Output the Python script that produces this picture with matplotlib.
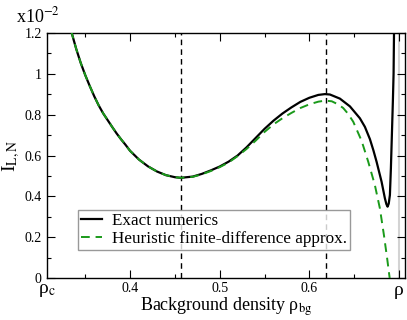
import matplotlib
matplotlib.use("Agg")
import matplotlib.pyplot as plt
from matplotlib.ticker import MultipleLocator, FixedLocator

plt.rcParams['font.family'] = ['Liberation Serif', 'DejaVu Serif']
plt.rcParams['mathtext.fontset'] = 'stix'

# Exact numerics (units of 1e-2)
exact_x = [0.334, 0.340, 0.345, 0.350, 0.355, 0.360, 0.365, 0.370, 0.375, 0.380,
           0.385, 0.390, 0.395, 0.400, 0.410, 0.420, 0.430, 0.440, 0.450, 0.4565,
           0.470, 0.480, 0.490, 0.500, 0.510, 0.520, 0.530, 0.540, 0.550, 0.560,
           0.570, 0.580, 0.590, 0.600, 0.610, 0.6174, 0.623, 0.6341, 0.6453, 0.6564,
           0.6620, 0.6676, 0.6715, 0.6750, 0.6806, 0.6843, 0.6860, 0.6873, 0.6886,
           0.6899, 0.6910, 0.6921, 0.6932, 0.6940, 0.6946]
exact_y = [1.213, 1.120, 1.052, 0.993, 0.940, 0.890, 0.845, 0.806, 0.773, 0.740,
           0.708, 0.679, 0.652, 0.623, 0.580, 0.547, 0.522, 0.504, 0.494, 0.491,
           0.497, 0.510, 0.527, 0.546, 0.570, 0.600, 0.640, 0.685, 0.730, 0.770,
           0.805, 0.835, 0.862, 0.882, 0.896, 0.900, 0.898, 0.878, 0.840, 0.782,
           0.740, 0.680, 0.625, 0.570, 0.472, 0.391, 0.362, 0.350, 0.365,
           0.407, 0.537, 0.700, 0.863, 1.000, 1.25]

# Heuristic finite-difference approximation
approx_x = [0.334, 0.340, 0.345, 0.350, 0.355, 0.360, 0.365, 0.370, 0.375, 0.380,
            0.385, 0.390, 0.395, 0.400, 0.410, 0.420, 0.430, 0.440, 0.450, 0.4565,
            0.470, 0.480, 0.490, 0.500, 0.510, 0.520, 0.530, 0.540, 0.550, 0.560,
            0.570, 0.580, 0.590, 0.600, 0.610, 0.6174, 0.625, 0.632, 0.6378, 0.643,
            0.649, 0.6583, 0.6657, 0.6731, 0.6787, 0.6832, 0.6868, 0.6899, 0.6910]
approx_y = [1.213, 1.120, 1.052, 0.993, 0.940, 0.890, 0.845, 0.806, 0.773, 0.740,
            0.708, 0.679, 0.652, 0.623, 0.580, 0.547, 0.522, 0.504, 0.494, 0.491,
            0.496, 0.508, 0.524, 0.543, 0.566, 0.597, 0.632, 0.672, 0.715, 0.752,
            0.782, 0.808, 0.832, 0.850, 0.863, 0.868, 0.865, 0.850, 0.832, 0.805,
            0.765, 0.672, 0.570, 0.456, 0.342, 0.212, 0.098, -0.008, -0.05]

vlines_x = [0.4565, 0.6183]
rho_c = 0.307
rho_s = 0.700
xticks = [0.4, 0.5, 0.6]
yticks = [0, 0.2, 0.4, 0.6, 0.8, 1.0, 1.2]
ytick_labels = ['0', '0.2', '0.4', '0.6', '0.8', '1', '1.2']

fig = plt.figure(figsize=(4.07, 3.20), dpi=100)
ax = fig.add_axes([0.1147, 0.1303, 0.995 - 0.1147, 0.8978 - 0.1303])

ax.axvline(rho_s, color='#d3d3d3', lw=1.5, zorder=1)
for vx in vlines_x:
    ax.axvline(vx, color='black', lw=1.0, dashes=(4, 3), zorder=2)

ax.plot(exact_x, exact_y, color='black', lw=1.6, label='Exact numerics', zorder=4)
ax.plot(approx_x, approx_y, color='#1a9a1a', lw=1.4, dashes=(4.5, 3),
        label='Heuristic finite-difference approx.', zorder=5)

ax.set_xlim(rho_c, 0.7067)
ax.set_ylim(0, 1.2)

ax.xaxis.set_major_locator(FixedLocator([rho_c] + xticks + [rho_s]))
ax.set_xticklabels(['ρ$_\\mathrm{c}$'] + ['%.1f' % v for v in xticks] + ['ρ'])
ax.xaxis.set_minor_locator(FixedLocator([0.35, 0.45, 0.55, 0.65]))
ax.set_yticks(yticks)
ax.set_yticklabels(ytick_labels)
ax.yaxis.set_minor_locator(MultipleLocator(0.1))

ax.tick_params(which='both', direction='in', top=True, right=True, labelsize=10)
ax.tick_params(which='major', length=6, width=0.8)
ax.tick_params(which='minor', length=3, width=0.8)
ax.tick_params(axis='x', which='major', pad=3)
labels = ax.get_xticklabels()
labels[0].set_fontsize(14)
labels[-1].set_fontsize(14)
ax.get_xticklines()[0].set_visible(False)
ax.get_xticklines()[1].set_visible(False)

for s in ax.spines.values():
    s.set_linewidth(1.0)

ax.set_xlabel('Background density ρ$_{\\mathrm{bg}}$', fontsize=13, labelpad=-3)
ax.set_ylabel('I$_{\\mathrm{L,N}}$', fontsize=14, labelpad=2)
fig.text(0.04, 0.95, 'x10$^{-2}$', fontsize=13, ha='left', va='center')

leg = ax.legend(loc='lower left', bbox_to_anchor=(0.087, 0.115), fontsize=12.3,
                frameon=True, fancybox=False, edgecolor='#808080',
                handlelength=1.2, handletextpad=0.6, borderpad=0.2,
                labelspacing=0.1, borderaxespad=0)
leg.get_frame().set_linewidth(1.0)

fig.savefig('out.png', dpi=100)
